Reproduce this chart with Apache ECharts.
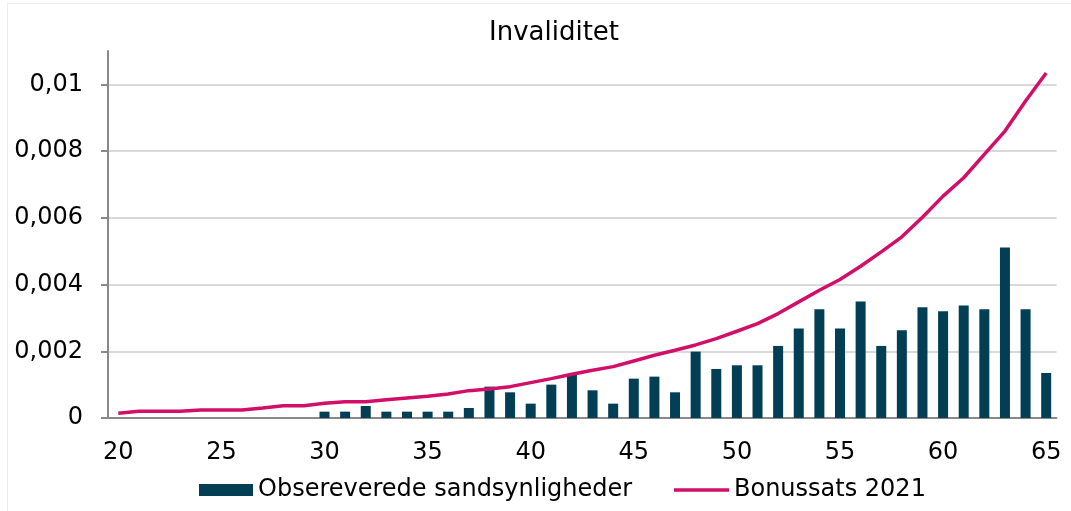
<!DOCTYPE html>
<html>
<head>
<meta charset="utf-8">
<script src="https://cdn.jsdelivr.net/npm/echarts@6/dist/echarts.min.js"></script>
<style>
  html, body { margin: 0; padding: 0; background: #fff; }
  #chart { width: 1071px; height: 511px; }
</style>
</head>
<body>
<div id="chart"></div>
<script>
// Alder 20..65
const ages = [];
for (let a = 20; a <= 65; a++) ages.push(String(a));

// y-aksens mærker
const yTicks = [0, 0.002, 0.004, 0.006, 0.008, 0.01];

// Observerede sandsynligheder (søjler), aflæst fra figuren – ingen data 20-29
const observed = [
  null, null, null, null, null, null, null, null, null, null,
  0.00019, 0.00019, 0.00036, 0.00019, 0.00019, 0.00019, 0.00019, 0.0003, 0.00094, 0.00077,
  0.00043, 0.0010, 0.00131, 0.00083, 0.00043, 0.00118, 0.00124, 0.00077, 0.00199, 0.00147,
  0.00158, 0.00158, 0.00216, 0.00268, 0.00326, 0.00268, 0.00349, 0.00216, 0.00263, 0.00332,
  0.0032, 0.00337, 0.00326, 0.00511, 0.00326, 0.00135
];

// Bonussats 2021 (linje)
const bonus = [
  0.00014, 0.0002, 0.0002, 0.0002, 0.00024, 0.00024, 0.00024, 0.0003, 0.00037, 0.00037,
  0.00044, 0.00049, 0.00049, 0.00055, 0.0006, 0.00065, 0.00072, 0.00082, 0.00087, 0.00094,
  0.00106, 0.00118, 0.00131, 0.00143, 0.00154, 0.00171, 0.00188, 0.00203, 0.00219, 0.00238,
  0.0026, 0.00283, 0.00313, 0.00348, 0.00383, 0.00415, 0.00455, 0.00498, 0.00543, 0.00602,
  0.00665, 0.0072, 0.0079, 0.0086, 0.0095, 0.01034
];

const seriesNames = ['Obsereverede sandsynligheder', 'Bonussats 2021'];

const FONT = 'DejaVu Sans';
const BAR_COLOR = '#023f55';
const LINE_COLOR = '#d10f68';
const chart = echarts.init(document.getElementById('chart'));

const legendText = { fontFamily: FONT, fontSize: 24, color: '#000' };

chart.setOption({
  animation: false,
  backgroundColor: '#fff',
  textStyle: { fontFamily: FONT },
  title: {
    text: 'Invaliditet',
    left: 489, top: 20, padding: 0,
    textStyle: { fontFamily: FONT, fontSize: 26, fontWeight: 'normal', color: '#000' }
  },
  graphic: [{
    type: 'rect', silent: true,
    shape: { x: 7.5, y: 3.5, width: 1200, height: 600 },
    style: { fill: 'none', stroke: '#ececec', lineWidth: 1 }
  }],
  legend: [
    {
      left: 199, top: 478, padding: 0,
      itemWidth: 54, itemHeight: 12, itemGap: 5,
      textStyle: legendText,
      data: [{ name: seriesNames[0], icon: 'rect' }]
    },
    {
      left: 674, top: 478, padding: 0,
      itemWidth: 55, itemHeight: 3.5,
      textStyle: legendText,
      data: [{ name: seriesNames[1], icon: 'rect', itemStyle: { color: LINE_COLOR } }]
    }
  ],
  grid: { left: 108, right: 14.5, top: 51, bottom: 93, containLabel: false },
  xAxis: {
    type: 'category', data: ages,
    axisLine: { lineStyle: { color: '#898989', width: 2 } },
    axisTick: { interval: 0, length: 7, lineStyle: { color: '#898989', width: 2 } },
    axisLabel: { interval: 4, margin: 23, fontSize: 24, color: '#000', fontFamily: FONT },
    splitLine: { show: false }
  },
  yAxis: {
    type: 'value', min: 0, max: 0.011, interval: 0.002,
    axisLine: { show: true, lineStyle: { color: '#898989', width: 2 } },
    axisTick: {
      show: true, length: 7, customValues: yTicks,
      lineStyle: { color: '#898989', width: 2 }
    },
    axisLabel: {
      margin: 25, fontSize: 24, color: '#000', fontFamily: FONT,
      customValues: yTicks,
      formatter: v => String(+v.toFixed(3)).replace('.', ',')
    },
    splitLine: {
      lineStyle: {
        width: 2,
        color: ['#d9d9d9', '#d9d9d9', '#d9d9d9', '#d9d9d9', '#d9d9d9', '#d9d9d9', 'rgba(0,0,0,0)']
      }
    }
  },
  series: [
    {
      name: seriesNames[0], type: 'bar', data: observed,
      barWidth: 10,
      itemStyle: { color: BAR_COLOR }
    },
    {
      name: seriesNames[1], type: 'line', data: bonus,
      symbol: 'none', smooth: false,
      lineStyle: { color: LINE_COLOR, width: 3.5 },
      itemStyle: { color: LINE_COLOR }
    }
  ]
});
</script>
</body>
</html>
